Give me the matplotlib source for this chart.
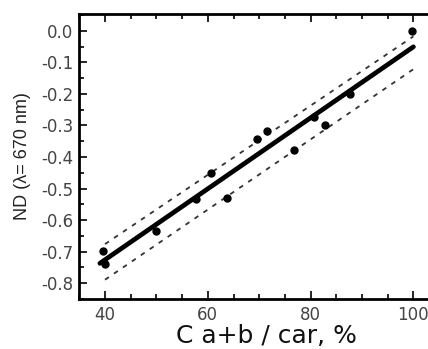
import numpy as np
import matplotlib
matplotlib.use("Agg")
import matplotlib.pyplot as plt
from matplotlib.ticker import MultipleLocator

# data points
x_pts = [39.7, 40.0, 49.9, 57.7, 60.7, 63.7, 69.5, 71.6, 76.8, 80.7, 82.8, 87.6, 99.8]
y_pts = [-0.698, -0.739, -0.634, -0.534, -0.450, -0.529, -0.344, -0.317, -0.378, -0.274, -0.299, -0.201, 0.0]

# regression line and prediction band endpoints
fit_x = [39.0, 100.0]
fit_y = [-0.737, -0.051]
upper_x = [40.0, 100.0]
upper_y = [-0.676, -0.018]
lower_x = [40.0, 100.0]
lower_y = [-0.789, -0.122]

x_ticks = [40, 60, 80, 100]
y_ticks = [0.0, -0.1, -0.2, -0.3, -0.4, -0.5, -0.6, -0.7, -0.8]

plt.rcParams['font.family'] = ['DejaVu Sans']

W, H = 428, 349
fig = plt.figure(figsize=(W / 100, H / 100), dpi=100)
# axes extend slightly past the right edge of the image (right spine cropped)
ax = fig.add_axes([79 / W, (H - 299) / H, (454 - 79) / W, (299 - 14) / H])

ax.plot(upper_x, upper_y, color='#333333', lw=1.3, dashes=(2.6, 3.4))
ax.plot(lower_x, lower_y, color='#333333', lw=1.3, dashes=(2.6, 3.4))
ax.plot(fit_x, fit_y, color='black', lw=3.4, solid_capstyle='round')
ax.plot(x_pts, y_pts, 'o', color='black', ms=5, zorder=5)

ax.set_xlim(34.94, 107.9)
ax.set_ylim(-0.85, 0.053)
ax.set_xticks(x_ticks)
ax.set_yticks(y_ticks)
ax.xaxis.set_minor_locator(MultipleLocator(5))
ax.yaxis.set_minor_locator(MultipleLocator(0.05))
ax.set_yticklabels([f"{v:.1f}" for v in y_ticks])

for s in ['left', 'bottom', 'top', 'right']:
    ax.spines[s].set_linewidth(2)

ax.tick_params(which='both', direction='in', top=True, right=False,
               labelsize=12, labelcolor='#444444', width=1.2)
ax.tick_params(which='major', length=6)
ax.tick_params(axis='y', which='major', pad=4)
ax.tick_params(axis='x', which='major', pad=5)
ax.tick_params(which='minor', length=3.5)

ax.set_xlabel('C a+b / car, %', fontsize=18, labelpad=0, color='#111111')
ax.set_ylabel('ND (λ= 670 nm)', fontsize=13, labelpad=7, color='#222222',
              family=['Liberation Sans', 'DejaVu Sans'])

fig.savefig('out.png', dpi=100)
